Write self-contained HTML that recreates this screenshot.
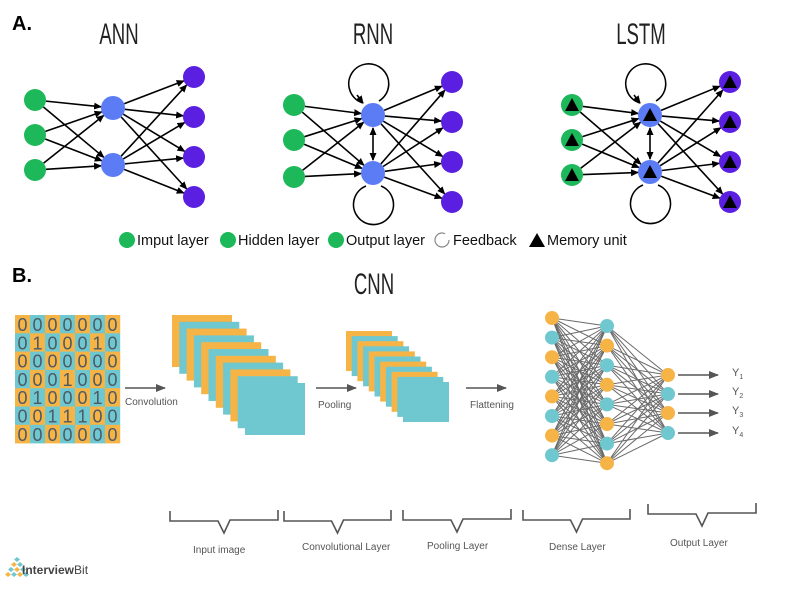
<!DOCTYPE html>
<html><head><meta charset="utf-8"><style>
html,body{margin:0;padding:0;background:#fff;width:800px;height:600px;overflow:hidden}
svg{display:block}
.t{font-family:"Liberation Sans",sans-serif}
</style></head><body>
<svg id="s" width="800" height="600" viewBox="0 0 800 600" xmlns="http://www.w3.org/2000/svg">
<defs>
<marker id="ah" markerWidth="8" markerHeight="8" refX="7" refY="4" orient="auto" markerUnits="userSpaceOnUse"><path d="M0,0.5 L8,4 L0,7.5 z" fill="#000"/></marker>
<marker id="ah2" markerWidth="8" markerHeight="8" refX="1" refY="4" orient="auto" markerUnits="userSpaceOnUse"><path d="M8,0.5 L0,4 L8,7.5 z" fill="#000"/></marker>
<marker id="ag" markerWidth="10" markerHeight="10" refX="9" refY="5" orient="auto" markerUnits="userSpaceOnUse"><path d="M0,1 L10,5 L0,9 z" fill="#555"/></marker>
</defs>
<text x="12" y="30" class="t" font-size="20" font-weight="bold">A.</text>
<text x="12" y="282" class="t" font-size="20" font-weight="bold">B.</text>
<g class="t" font-size="30" fill="#222" font-weight="normal">
<text x="119" y="44" text-anchor="middle" transform="translate(119 0) scale(0.62 1) translate(-119 0)">ANN</text>
<text x="373" y="44" text-anchor="middle" transform="translate(373 0) scale(0.62 1) translate(-373 0)">RNN</text>
<text x="641" y="44" text-anchor="middle" transform="translate(641 0) scale(0.62 1) translate(-641 0)">LSTM</text>
<text x="374" y="294" text-anchor="middle" transform="translate(374 0) scale(0.62 1) translate(-374 0)">CNN</text>
</g>
<g id="g"></g>
<g class="t" font-size="14.5" fill="#111">
<circle cx="127" cy="240" r="8" fill="#1db85a"/><text x="137" y="245">Imput layer</text>
<circle cx="228" cy="240" r="8" fill="#1db85a"/><text x="238" y="245">Hidden layer</text>
<circle cx="336" cy="240" r="8" fill="#1db85a"/><text x="346" y="245">Output layer</text>
<circle cx="442" cy="240" r="7" fill="none" stroke="#888" stroke-width="1.2" stroke-dasharray="36 8"/><text x="453" y="245">Feedback</text>
<path d="M529,247 L537,233 L545,247 z" fill="#000"/><text x="547" y="245">Memory unit</text>
</g>
<g class="t" font-size="10" fill="#555">
<text x="125" y="405">Convolution</text>
<text x="318" y="408">Pooling</text>
<text x="470" y="408">Flattening</text>
<text x="193" y="553">Input image</text>
<text x="302" y="550">Convolutional Layer</text>
<text x="427" y="549">Pooling Layer</text>
<text x="549" y="550">Dense Layer</text>
<text x="670" y="546">Output Layer</text>
</g>
<g class="t" font-size="12" fill="#333">
<text x="22" y="574" font-weight="bold" fill="#444">Interview<tspan font-weight="normal">Bit</tspan></text>
</g>
</svg>
<script>
var g=document.getElementById('g'),h='';
function C(x,y,r,f){h+='<circle cx="'+x+'" cy="'+y+'" r="'+r+'" fill="'+f+'"/>';}
function L(x1,y1,x2,y2,r1,r2,col,w,m){var dx=x2-x1,dy=y2-y1,d=Math.hypot(dx,dy);var a=x1+dx*r1/d,b=y1+dy*r1/d,c=x2-dx*r2/d,e=y2-dy*r2/d;h+='<line x1="'+a+'" y1="'+b+'" x2="'+c+'" y2="'+e+'" stroke="'+col+'" stroke-width="'+w+'"'+(m?' marker-end="url(#'+m+')"':'')+'/>';}
function tri(x,y){h+='<path d="M'+(x-7)+','+(y+6)+' L'+x+','+(y-7)+' L'+(x+7)+','+(y+6)+' z" fill="#000"/>';}
var G='#1db85a',B='#5b7cf5',P='#5a1fe0';
function net(ix,iy,hx,hy,ox,oy,rec,mem){
 iy.forEach(function(a){hy.forEach(function(b){L(ix,a,hx,b,11,12,'#000',1.6,'ah');});});
 hy.forEach(function(a){oy.forEach(function(b){L(hx,a,ox,b,12,11,'#000',1.6,'ah');});});
 if(rec){h+='<line x1="'+hx+'" y1="'+(hy[0]+13)+'" x2="'+hx+'" y2="'+(hy[1]-13)+'" stroke="#000" stroke-width="1.6" marker-end="url(#ah)" marker-start="url(#ah2)"/>';
  h+='<path d="M'+(hx-10)+','+(hy[0]-12)+' A20,20 0 1 1 '+(hx+6)+','+(hy[0]-14)+'" fill="none" stroke="#000" stroke-width="1.6"/>';
  h+='<path d="M'+(hx-16)+','+(hy[0]-20)+' L'+(hx-10)+','+(hy[0]-12)+'" stroke="#000" stroke-width="1.6" marker-end="url(#ah)"/>';
  h+='<path d="M'+(hx-7)+','+(hy[1]+13)+' A20,20 0 1 0 '+(hx+8)+','+(hy[1]+13)+'" fill="none" stroke="#000" stroke-width="1.6"/>';}
 iy.forEach(function(a){C(ix,a,11,G);if(mem)tri(ix,a);});
 hy.forEach(function(a){C(hx,a,12,B);if(mem)tri(hx,a);});
 oy.forEach(function(a){C(ox,a,11,P);if(mem)tri(ox,a);});
}
net(35,[100,135,170],113,[108,165],194,[77,117,157,197],false,false);
net(294,[105,140,177],373,[115,173],452,[82,122,162,202],true,false);
net(572,[105,140,175],650,[115,172],730,[82,122,162,202],true,true);
var O='#f6b446',T='#6fc8d0';
var M=['0000000','0100010','0000000','0001000','0100010','0011100','0000000'];
for(var r=0;r<7;r++)for(var c=0;c<7;c++){var x=15+c*15,y=315+r*18.3;h+='<rect x="'+x+'" y="'+y+'" width="15.2" height="18.6" fill="'+((r+c)%2?T:O)+'"/>';
 h+='<text x="'+(x+7.5)+'" y="'+(y+16)+'" text-anchor="middle" font-family="Liberation Sans,sans-serif" font-size="18" fill="#4d5a66">'+M[r][c]+'</text>';}
for(var i=0;i<11;i++){var x=172+i*7.3,y=315+i*6.8;h+='<rect x="'+x+'" y="'+y+'" width="60" height="52" fill="'+(i%2?T:O)+'"/>';}
h+='<rect x="245" y="383" width="60" height="52" fill="'+T+'"/>';
for(var i=0;i<11;i++){var x=346+i*5.7,y=331+i*5.1;h+='<rect x="'+x+'" y="'+y+'" width="46" height="40" fill="'+(i%2?T:O)+'"/>';}
h+='<rect x="403" y="382" width="46" height="40" fill="'+T+'"/>';
L(125,388,165,388,0,0,'#555',1.6,'ag');L(316,388,356,388,0,0,'#555',1.6,'ag');L(466,388,506,388,0,0,'#555',1.6,'ag');
var c1=[],c2=[],c3=[375,394,413,433];for(var i=0;i<8;i++){c1.push(318+i*19.6);c2.push(326+i*19.6);}
c1.forEach(function(a){c2.forEach(function(b){L(552,a,607,b,0,0,'#6a6a6a',1);});});
c2.forEach(function(a){c3.forEach(function(b){L(607,a,668,b,0,0,'#6a6a6a',1);});});
c1.forEach(function(a,i){C(552,a,7,i%2?T:O);});
c2.forEach(function(a,i){C(607,a,7,i%2?O:T);});
c3.forEach(function(a,i){C(668,a,7,i%2?T:O);});
c3.forEach(function(a,i){L(678,a,718,a,0,0,'#555',1.6,'ag');h+='<text x="732" y="'+(a+1)+'" font-family="Liberation Sans,sans-serif" font-size="11" fill="#555">Y<tspan font-size="7" dy="3">'+(i+1)+'</tspan></text>';});
[[170,278,521,533],[284,391,521,533],[403,511,520,532],[523,630,520,532],[648,756,514,526]].forEach(function(q){var m=(q[0]+q[1])/2;
 h+='<path d="M'+q[0]+','+(q[2]-10)+' V'+q[2]+' H'+(m-6)+' L'+m+','+q[3]+' L'+(m+6)+','+(q[2]-1)+' H'+q[1]+' V'+(q[2]-11)+'" fill="none" stroke="#555" stroke-width="1.6"/>';});
for(var r=0;r<4;r++)for(var c=0;c<=r;c++){var x=17-r*3+c*6,y=557+r*5;h+='<path d="M'+x+','+y+' l3,2.5 l-3,2.5 l-3,-2.5z" fill="'+((r+c)%2?'#f6b446':'#6fc8d0')+'"/>';}
g.innerHTML=h;
</script>
</body></html>
